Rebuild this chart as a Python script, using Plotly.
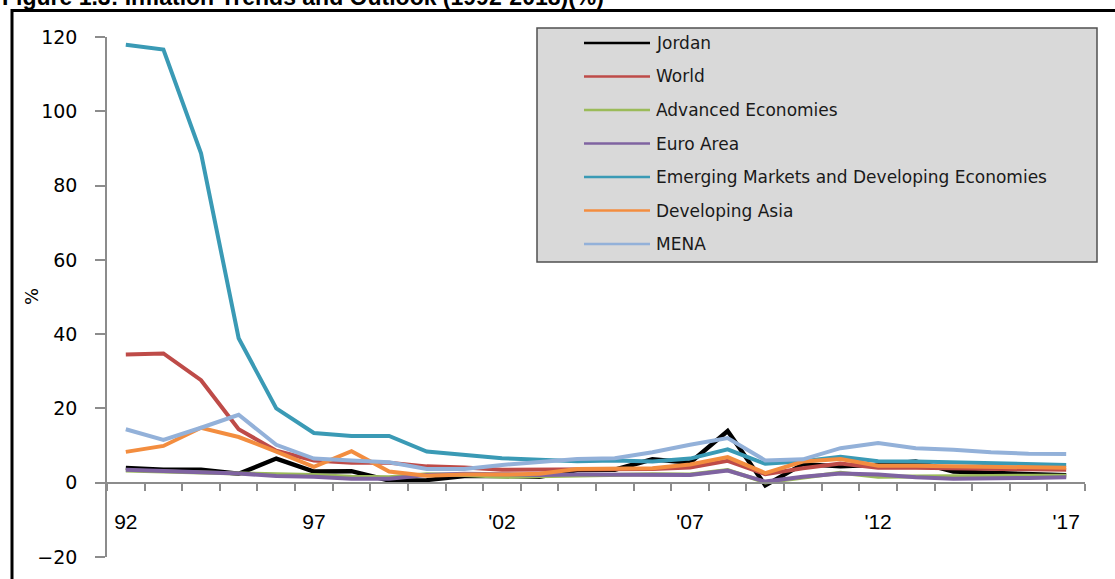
import plotly.graph_objects as go

# Annual inflation, percent, 1992-2017
years = list(range(1992, 2018))

jordan = [4.0, 3.5, 3.5, 2.4, 6.5, 3.0, 3.1, 0.6, 0.7, 1.8, 1.8, 1.6, 3.4,
          3.5, 6.3, 5.4, 13.9, -0.7, 5.0, 4.4, 4.8, 5.7, 3.0, 2.6, 2.2, 2.0]
world = [34.5, 34.8, 27.6, 14.4, 8.6, 6.0, 5.4, 5.4, 4.4, 4.1, 3.5, 3.5, 3.6,
         3.7, 3.7, 4.1, 5.9, 2.3, 3.9, 5.2, 4.0, 4.0, 3.8, 3.7, 3.6, 3.5]
advanced = [3.3, 3.0, 2.6, 2.5, 2.3, 2.1, 1.6, 1.5, 2.3, 2.1, 1.6, 1.8, 2.0,
            2.3, 2.3, 2.2, 3.4, 0.1, 1.5, 2.7, 1.6, 1.6, 1.8, 1.8, 1.9, 1.9]
euro_area = [3.5, 3.2, 2.7, 2.5, 1.8, 1.6, 1.1, 1.1, 2.1, 2.4, 2.3, 2.1, 2.2,
             2.2, 2.2, 2.1, 3.3, 0.3, 1.6, 2.5, 2.2, 1.5, 1.1, 1.1, 1.3, 1.5]
emde = [117.9, 116.6, 88.7, 38.9, 20.0, 13.4, 12.6, 12.6, 8.4, 7.5, 6.6, 6.2, 5.8,
        6.0, 5.7, 6.5, 9.0, 5.1, 5.8, 7.0, 5.8, 5.7, 5.5, 5.1, 4.9, 4.8]
dev_asia = [8.3, 9.9, 14.8, 12.3, 8.4, 4.3, 8.5, 3.0, 1.9, 2.2, 2.2, 2.4, 3.7,
            3.7, 3.9, 4.9, 6.9, 2.6, 5.7, 6.4, 4.6, 4.6, 4.4, 4.3, 4.2, 4.0]
mena = [14.4, 11.5, 14.8, 18.3, 10.2, 6.5, 6.0, 5.5, 3.7, 3.7, 4.8, 5.7, 6.4,
        6.6, 8.2, 10.2, 12.0, 6.0, 6.3, 9.3, 10.7, 9.3, 8.9, 8.2, 7.8, 7.7]

series_names = ["Jordan", "World", "Advanced Economies", "Euro Area",
                "Emerging Markets and Developing Economies", "Developing Asia", "MENA"]
series_values = [jordan, world, advanced, euro_area, emde, dev_asia, mena]
series_colors = ["#000000", "#BE4B48", "#9BBB59", "#7F63A1",
                 "#3A9AB5", "#F38D3F", "#93B1D9"]

x_tick_years = [1992, 1997, 2002, 2007, 2012, 2017]
x_tick_labels = ["92", "97", "'02", "'07", "'12", "'17"]

title_text = "Figure 1.3: Inflation Trends and Outlook (1992-2018)(%)"

# plot-area geometry in pixels
W, H = 1115, 579
L, R, T, B = 107, 1085, 37, 557


def px_x(x):
    return (x - L) / (R - L)


def px_y(y):
    return (B - y) / (B - T)


fig = go.Figure()
for name, vals, col in zip(series_names, series_values, series_colors):
    fig.add_trace(go.Scatter(
        x=years, y=vals, name=name, mode="lines",
        line=dict(color=col, width=4.4 if name == "Jordan" else 4.0),
        cliponaxis=False,
    ))

axis_grey = "#8c8c8c"
fig.update_layout(
    width=W, height=H,
    margin=dict(l=L, r=W - R, t=T, b=H - B, pad=0),
    paper_bgcolor="white", plot_bgcolor="white",
    showlegend=False,
    xaxis=dict(
        range=[1991.5, 2017.5],
        anchor="free", position=px_y(483),
        showline=True, linecolor=axis_grey, linewidth=1.5,
        showgrid=False, zeroline=False,
        tickmode="array", tickvals=x_tick_years, ticktext=x_tick_labels,
        ticks="", ticklabelstandoff=20,
        tickfont=dict(family="Liberation Sans", size=21, color="black"),
        minor=dict(tickmode="array",
                   tickvals=[y - 0.5 for y in years] + [years[-1] + 0.5],
                   ticks="outside", ticklen=7, tickcolor=axis_grey, tickwidth=1.5,
                   showgrid=False),
    ),
    yaxis=dict(
        range=[-20, 120], tickmode="linear", tick0=0, dtick=20,
        showline=True, linecolor=axis_grey, linewidth=1.5,
        showgrid=False, zeroline=False,
        ticks="outside", ticklen=10, tickcolor=axis_grey, tickwidth=1.5,
        ticklabelstandoff=14,
        tickfont=dict(family="DejaVu Sans", size=19, color="black"),
    ),
)

shapes = []
annotations = []

# outer frame
shapes.append(dict(type="rect", xref="paper", yref="paper",
                   x0=px_x(12), y0=px_y(10.5), x1=px_x(1130), y1=px_y(600),
                   line=dict(color="black", width=3), fillcolor="rgba(0,0,0,0)"))

# legend panel
shapes.append(dict(type="rect", xref="paper", yref="paper",
                   x0=px_x(537), y0=px_y(28), x1=px_x(1097), y1=px_y(262),
                   line=dict(color="#505050", width=1.5), fillcolor="#D9D9D9"))
row_y0, row_step = 43, 33.5
for i, (name, col) in enumerate(zip(series_names, series_colors)):
    yy = row_y0 + i * row_step
    shapes.append(dict(type="line", xref="paper", yref="paper",
                       x0=px_x(584), x1=px_x(650), y0=px_y(yy), y1=px_y(yy),
                       line=dict(color=col, width=2.5)))
    annotations.append(dict(xref="paper", yref="paper", x=px_x(654), y=px_y(yy),
                            xanchor="left", yanchor="middle", showarrow=False,
                            text=name,
                            font=dict(family="DejaVu Sans", size=17, color="#1a1a1a")))

# y-axis title
annotations.append(dict(xref="paper", yref="paper", x=px_x(31), y=0.5,
                        xanchor="center", yanchor="middle", showarrow=False,
                        text="%", textangle=-90,
                        font=dict(family="DejaVu Sans", size=18, color="black")))

# figure caption, running off the top edge
annotations.append(dict(xref="paper", yref="paper", x=px_x(0), y=px_y(12),
                        xanchor="left", yanchor="bottom", showarrow=False,
                        text="<b>" + title_text + "</b>",
                        font=dict(family="Liberation Sans", size=23, color="black")))

fig.update_layout(shapes=shapes, annotations=annotations)
fig.write_html("out.html")
